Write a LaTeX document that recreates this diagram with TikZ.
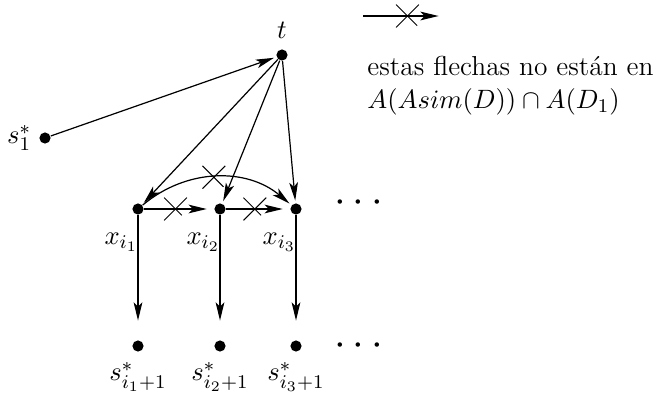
\documentclass[tikz,border=0pt]{standalone}
\usepackage{amsmath}
\usetikzlibrary{positioning, arrows.meta, shapes.misc}

\begin{document}
\begin{tikzpicture}[
    x=0.0145cm, y=-0.0145cm,
    font=\fontsize{11.3pt}{13.6pt}\selectfont,
    >={Stealth[length=7.5pt, width=3.6pt, inset=1.8pt]},
    dot/.style={circle, fill, inner sep=0pt, minimum size=4.6pt},
    crs/.style={cross out, draw, inner sep=0pt, minimum size=9pt, line width=0.4pt},
    lbl/.style={inner sep=1pt},
    arr/.style={->, line width=0.5pt, shorten >=1pt},
]
\useasboundingbox (0,0) rectangle (663,396);

% vertices
\node[dot] (t) at (282,55) {};
\node[lbl, above=3pt of t] {$t$};
\node[dot] (s1) at (45,138) {};
\node[lbl, left=2pt of s1] {$s_1^*$};

\node[dot] (x1) at (138,209) {};
\node[dot] (x2) at (220,209) {};
\node[dot] (x3) at (296,209) {};
\node (pd1) at (362,203) {\LARGE$\cdots$};
\node[lbl, below left=7pt and -3pt of x1] {$x_{i_1}$};
\node[lbl, below left=7pt and -3pt of x2] {$x_{i_2}$};
\node[lbl, below left=7pt and -3pt of x3] {$x_{i_3}$};

\node[dot] (y1) at (138,346) {};
\node[dot] (y2) at (220,346) {};
\node[dot] (y3) at (296,346) {};
\node (pd2) at (362,346) {\LARGE$\cdots$};
\node[lbl, below=3pt of y1] {$s_{i_1+1}^*$};
\node[lbl, below=3pt of y2] {$s_{i_2+1}^*$};
\node[lbl, below=3pt of y3] {$s_{i_3+1}^*$};

% arrows
\draw[arr] (s1) -- (t);
\draw[arr] (t) -- (x1);
\draw[arr] (t) -- (x2);
\draw[arr] (t) -- (x3);
\draw[arr, shorten >=8pt] (x1) -- (y1);
\draw[arr, shorten >=8pt] (x2) -- (y2);
\draw[arr, shorten >=8pt] (x3) -- (y3);

% crossed arrows
\draw[arr, shorten >=3pt] (x1) -- node[crs, pos=0.45] {} (x2);
\draw[arr, shorten >=3pt] (x2) -- node[crs, pos=0.45] {} (x3);
\draw[arr] (x1) to[out=40, in=140] node[crs, pos=0.48] {} (x3);

% legend
\coordinate (la) at (363,16);
\coordinate (lb) at (441,16);
\draw[arr] (la) -- node[crs, pos=0.57] {} (lb);
\node[anchor=north west, align=left, inner sep=0pt] (txt) at (367,56)
  {estas flechas no están en\\ $A(Asim(D))\cap A(D_1)$};
\end{tikzpicture}
\end{document}
